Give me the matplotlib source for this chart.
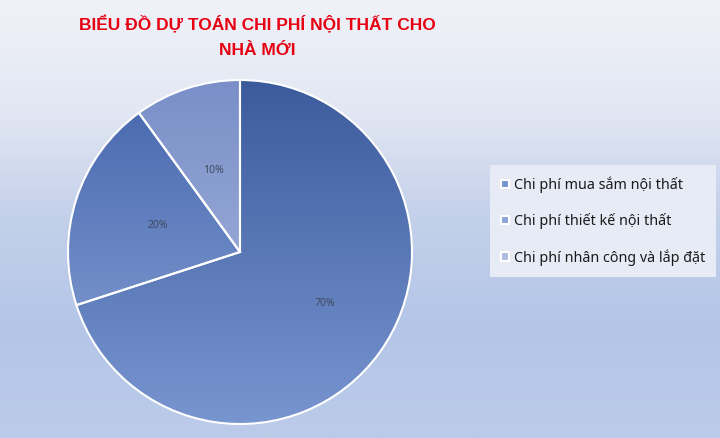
import numpy as np
import matplotlib.pyplot as plt
from matplotlib.colors import LinearSegmentedColormap

labels = ['Chi phí mua sắm nội thất', 'Chi phí thiết kế nội thất', 'Chi phí nhân công và lắp đặt']
values = [70, 20, 10]
title = 'BIỂU ĐỒ DỰ TOÁN CHI PHÍ NỘI THẤT CHO\nNHÀ MỚI'

# mau gradient (tren, duoi) cho tung mieng
grad_colors = [('#3b5b9c', '#7895d0'), ('#4566ad', '#8ba5d8'), ('#7a8fc8', '#adbde2')]

plt.rcParams['font.family'] = ['Noto Sans', 'DejaVu Sans']

fig = plt.figure(figsize=(7.2, 4.38), dpi=100)
ax = fig.add_axes([0, 0, 1, 1])

# nen gradient
bg = LinearSegmentedColormap.from_list('bg', ['#f0f2f8', '#e2e7f3', '#c3d0ea', '#b4c5e7', '#bccbe9'])
grad = np.linspace(0, 1, 256).reshape(-1, 1)
ax.imshow(grad, extent=(0, 720, 0, 438), cmap=bg, aspect='auto', zorder=0, origin='upper')

cx, cy, r = 240, 186, 172
wedges, texts, autotexts = ax.pie(values, startangle=90, counterclock=False, center=(cx, cy),
                                  radius=r, autopct='%d%%', pctdistance=0.5,
                                  colors=[c[1] for c in grad_colors], frame=True,
                                  wedgeprops=dict(edgecolor='white', linewidth=1.5),
                                  textprops=dict(color='#404a60', fontsize=7.5))
ax.set_aspect('equal')
ax.set_xlim(0, 720)
ax.set_ylim(0, 438)
ax.axis('off')

leg = ax.legend(wedges, labels, loc='center left', bbox_to_anchor=(490 / 720, 1 - 221 / 438),
                bbox_transform=fig.transFigure, frameon=True, facecolor='#e6ebf5',
                edgecolor='none', framealpha=1, fancybox=False, fontsize=10.3,
                handlelength=0.55, handleheight=0.55, handletextpad=0.3, labelspacing=1.4,
                borderpad=0.8, borderaxespad=0, labelcolor='#1a1a1a')

for w, (top, bot) in zip(wedges, grad_colors):
    cm = LinearSegmentedColormap.from_list('w', [top, bot])
    im = ax.imshow(grad, extent=(cx - r, cx + r, cy - r, cy + r), cmap=cm, aspect='auto',
                   zorder=1.5, origin='upper')
    im.set_clip_path(w)
    w.set_facecolor('none')
    w.set_zorder(2)
for t in autotexts:
    t.set_zorder(4)
autotexts[0].set_position((cx + 85, cy - 52))

fig.text(257 / 720, 1 - 37 / 438, title, ha='center', va='center', color='#e60012',
         fontsize=12.5, fontweight='bold', linespacing=1.8,
         family=['Liberation Sans', 'DejaVu Sans'])

fig.savefig('out.png', dpi=100)
